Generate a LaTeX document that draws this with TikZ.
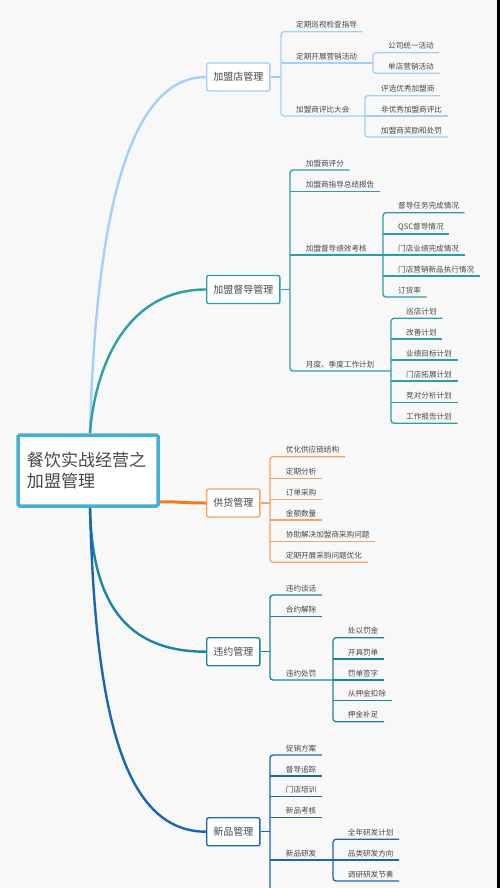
\documentclass[tikz,border=0pt]{standalone}
\usepackage{fontspec}
\setmainfont{Noto Sans CJK SC}
\usetikzlibrary{positioning}

\definecolor{bg}{HTML}{F8F8F8}
\definecolor{txt}{HTML}{474747}
\definecolor{rootc}{HTML}{44AED4}
\definecolor{dianc}{HTML}{A3CFFA}
\definecolor{duc}{HTML}{2F9EA3}
\definecolor{ghc}{HTML}{EE7B22}
\definecolor{ghlc}{HTML}{F3A466}
\definecolor{wyc}{HTML}{1D84A0}
\definecolor{xpc}{HTML}{1A66B3}

\begin{document}
\begin{tikzpicture}[
		x=1pt, y=-1pt,
		root/.style={draw=rootc, line width=3.5pt, fill=white, rounded corners=1.5pt, minimum width=140pt, minimum height=71pt, text width=122pt, inner xsep=9pt, align=left, font=\fontsize{17}{21}\selectfont, text=txt},
		branch/.style={draw=#1, line width=1.4pt, fill=white, rounded corners=2pt, anchor=west, minimum height=28pt, inner xsep=6.6pt, font=\fontsize{10}{12}\selectfont, text=txt},
		leaf/.style={anchor=south west, inner xsep=0pt, inner ysep=0pt, minimum height=13pt, font=\fontsize{7.6}{9}\selectfont, text=txt},
		curve/.style={draw=#1, line width=2.4pt},
		twig/.style={draw=#1, line width=1.3pt, rounded corners=3pt}
	]
		\clip (0,0) rectangle (500,888);
		\fill[bg] (0,0) rectangle (500,888);
		\fill[black] (497,0) rectangle (500,888);

		\node[root] (root) at (88,470.5) {餐饮实战经营之\\加盟管理};

		% main branches
		\node[branch=dianc] (dian) at (206,77) {加盟店管理};
		\node[branch=duc] (du) at (206,289.5) {加盟督导管理};
		\node[branch=ghlc] (gh) at (206,503) {供货管理};
		\node[branch=wyc] (wy) at (206,651.7) {违约管理};
		\node[branch=xpc] (xp) at (206,831.7) {新品管理};

		\draw[curve=dianc] ([xshift=2pt]root.north) .. controls +(5,-185) and +(-86,0) .. (dian.west);
		\draw[curve=duc] ([xshift=2pt]root.north) .. controls +(5,-65) and +(-81,0) .. (du.west);
		\draw[curve=ghc, line width=3pt] ([yshift=6pt]root.south east) .. controls +(25,0) and +(-25,0) .. (gh.west);
		\draw[curve=wyc] ([xshift=2pt]root.south) .. controls +(2,94) and +(-81,0) .. (wy.west);
		\draw[curve=xpc] ([xshift=2pt]root.south) .. controls +(5,194) and +(-86,0) .. (xp.west);

		% 加盟店管理
		\coordinate (dianbus) at (281,77);
		\coordinate (dian2bus) at (373,63);
		\coordinate (dian3bus) at (365,116);
		\node[leaf] (dian1) at (296,31.7) {定期巡视检查指导};
		\node[leaf] (dian2) at (296,63) {定期开展营销活动};
		\node[leaf] (dian3) at (296,116) {加盟商评比大会};
		\node[leaf] (dian21) at (388,52.7) {公司统一活动};
		\node[leaf] (dian22) at (388,73.3) {单店营销活动};
		\node[leaf] (dian31) at (381,95.7) {评选优秀加盟商};
		\node[leaf] (dian32) at (381,116) {非优秀加盟商评比};
		\node[leaf] (dian33) at (381,137) {加盟商奖励和处罚};

		\draw[twig=dianc] (dian) -- (dianbus);
		\draw[twig=dianc] ([xshift=5.5pt]dian1.south east) -| (dianbus) |- (dian3bus);
		\draw[twig=dianc] (dianbus |- dian2.south) -- (dian2bus);
		\draw[twig=dianc] ([xshift=5.5pt]dian21.south east) -| (dian2bus) |- ([xshift=5.5pt]dian22.south east);
		\draw[twig=dianc] ([xshift=5.5pt]dian31.south east) -| (dian3bus) |- ([xshift=5.5pt]dian33.south east);
		\draw[twig=dianc] (dian3bus |- dian32.south) -- ([xshift=5.5pt]dian32.south east);

		% 加盟督导管理
		\coordinate (dubus) at (290,289.5);
		\coordinate (du3bus) at (383,255);
		\coordinate (du4bus) at (391,371);
		\node[leaf] (du1) at (305.7,170) {加盟商评分};
		\node[leaf] (du2) at (305.7,191.7) {加盟商指导总结报告};
		\node[leaf] (du3) at (305.7,255) {加盟督导绩效考核};
		\node[leaf] (du4) at (305.7,371) {月度、季度工作计划};
		\node[leaf] (du31) at (398,212.7) {督导任务完成情况};
		\node[leaf] (du32) at (398,234) {QSC督导情况};
		\node[leaf] (du33) at (398,255) {门店业绩完成情况};
		\node[leaf] (du34) at (398,276) {门店营销新品执行情况};
		\node[leaf] (du35) at (398,297) {订货率};
		\node[leaf] (du41) at (406,318.3) {巡店计划};
		\node[leaf] (du42) at (406,339) {改善计划};
		\node[leaf] (du43) at (406,360) {业绩目标计划};
		\node[leaf] (du44) at (406,381) {门店拓展计划};
		\node[leaf] (du45) at (406,402.3) {竞对分析计划};
		\node[leaf] (du46) at (406,423.3) {工作报告计划};

		\draw[twig=duc] (du) -- (dubus);
		\draw[twig=duc] ([xshift=5.5pt]du1.south east) -| (dubus) |- (du4bus);
		\draw[twig=duc] (dubus |- du2.south) -- ([xshift=5.5pt]du2.south east);
		\draw[twig=duc] (dubus |- du3.south) -- (du3bus);
		\draw[twig=duc] ([xshift=5.5pt]du31.south east) -| (du3bus) |- ([xshift=5.5pt]du35.south east);
		\foreach \i in {2,3,4}
			\draw[twig=duc] (du3bus |- du3\i.south) -- ([xshift=5.5pt]du3\i.south east);
		\draw[twig=duc] ([xshift=5.5pt]du41.south east) -| (du4bus) |- ([xshift=5.5pt]du46.south east);
		\foreach \i in {2,...,5}
			\draw[twig=duc] (du4bus |- du4\i.south) -- ([xshift=5.5pt]du4\i.south east);

		% 供货管理
		\coordinate (ghbus) at (270,503);
		\node[leaf] (gh1) at (285.7,456.7) {优化供应链结构};
		\node[leaf] (gh2) at (285.7,478.3) {定期分析};
		\node[leaf] (gh3) at (285.7,499.3) {订单采购};
		\node[leaf] (gh4) at (285.7,520) {金额数量};
		\node[leaf] (gh5) at (285.7,541.7) {协助解决加盟商采购问题};
		\node[leaf] (gh6) at (285.7,562.3) {定期开展采购问题优化};

		\draw[twig=ghlc] (gh) -- (ghbus);
		\draw[twig=ghlc] ([xshift=5.5pt]gh1.south east) -| (ghbus) |- ([xshift=5.5pt]gh6.south east);
		\foreach \i in {2,...,5}
			\draw[twig=ghlc] (ghbus |- gh\i.south) -- ([xshift=5.5pt]gh\i.south east);

		% 违约管理
		\coordinate (wybus) at (270,651.7);
		\coordinate (wy3bus) at (333,680);
		\node[leaf] (wy1) at (285.7,595) {违约谈话};
		\node[leaf] (wy2) at (285.7,616.7) {合约解除};
		\node[leaf] (wy3) at (285.7,680) {违约处罚};
		\node[leaf] (wy31) at (347.7,637.7) {处以罚金};
		\node[leaf] (wy32) at (347.7,659) {开具罚单};
		\node[leaf] (wy33) at (347.7,680) {罚单签字};
		\node[leaf] (wy34) at (347.7,700.7) {从押金扣除};
		\node[leaf] (wy35) at (347.7,721.7) {押金补足};

		\draw[twig=wyc] (wy) -- (wybus);
		\draw[twig=wyc] ([xshift=5.5pt]wy1.south east) -| (wybus) |- (wy3bus);
		\draw[twig=wyc] (wybus |- wy2.south) -- ([xshift=5.5pt]wy2.south east);
		\draw[twig=wyc] ([xshift=5.5pt]wy31.south east) -| (wy3bus) |- ([xshift=5.5pt]wy35.south east);
		\foreach \i in {2,3,4}
			\draw[twig=wyc] (wy3bus |- wy3\i.south) -- ([xshift=5.5pt]wy3\i.south east);

		% 新品管理
		\coordinate (xpbus) at (270,831.7);
		\coordinate (xpend) at (270,895);
		\coordinate (xp5bus) at (333,860);
		\node[leaf] (xp1) at (285.7,755) {促销方案};
		\node[leaf] (xp2) at (285.7,776) {督导追踪};
		\node[leaf] (xp3) at (285.7,796.7) {门店培训};
		\node[leaf] (xp4) at (285.7,817.7) {新品考核};
		\node[leaf] (xp5) at (285.7,860) {新品研发};
		\node[leaf] (xp51) at (347.7,839.3) {全年研发计划};
		\node[leaf] (xp52) at (347.7,860) {品类研发方向};
		\node[leaf] (xp53) at (347.7,881) {调研研发节奏};

		\draw[twig=xpc] (xp) -- (xpbus);
		\draw[twig=xpc] ([xshift=5.5pt]xp1.south east) -| (xpend);
		\foreach \i in {2,3,4}
			\draw[twig=xpc] (xpbus |- xp\i.south) -- ([xshift=5.5pt]xp\i.south east);
		\draw[twig=xpc] (xpbus |- xp5.south) -- (xp5bus);
		\draw[twig=xpc] ([xshift=5.5pt]xp51.south east) -| (xp5bus) |- ([xshift=5.5pt]xp53.south east);
		\draw[twig=xpc] (xp5bus |- xp52.south) -- ([xshift=5.5pt]xp52.south east);
	\end{tikzpicture}
\end{document}
